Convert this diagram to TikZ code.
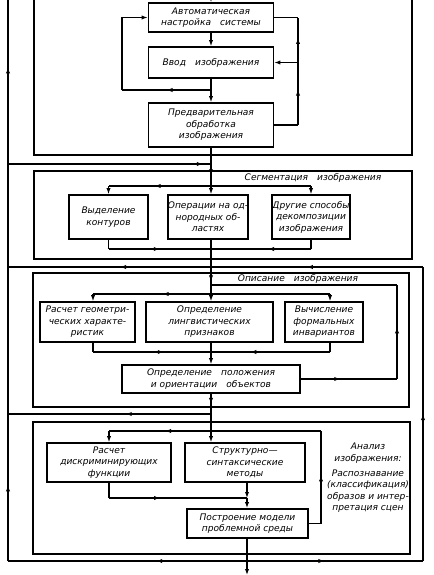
\documentclass[tikz,border=0pt]{standalone}
\usepackage{fontspec}
\setmainfont{DejaVu Sans}
\newfontfamily\rus{DejaVu Sans}
\usetikzlibrary{arrows.meta,decorations.markings}
\tikzset{
  txt/.style={font=\rus\itshape\fontsize{6.8}{8.6}\selectfont, align=center, inner sep=0pt},
  box/.style={txt, draw, line width=1.3pt},
  frm/.style={draw, line width=0.9pt},
  conn/.style={line width=0.8pt},
  arr/.style={-{Latex[length=4.5pt,width=3.2pt]}},
  ma/.style={postaction={decorate, decoration={markings, mark=at position #1 with {\arrow{Latex[length=4.5pt,width=3.2pt]}}}}},
}
\begin{document}
\begin{tikzpicture}[x=0.75pt, y=-0.75pt]
\useasboundingbox (0,0) rectangle (433,575);
% frames
\draw[frm] (34,0) -- (34,155) -- (412,155) -- (412,0);
\draw[frm] (34,171) rectangle (412,259);
\draw[frm] (33,273) rectangle (409,407);
\draw[frm] (33,422) rectangle (410,554);
% boxes
\node[box, minimum width=93.75pt, minimum height=21.75pt] (A) at (211,17.5) {Автоматическая\\настройка\quad системы};
\node[box, minimum width=93.75pt, minimum height=23.25pt] (B) at (211,62.5) {Ввод\quad изображения};
\node[box, minimum width=93.75pt, minimum height=33pt] (C) at (211,125) {Предварительная\\обработка\\изображения};
\node[box, minimum width=59.25pt, minimum height=33pt] (D) at (108.5,217) {Выделение\\контуров};
\node[box, minimum width=58.5pt, minimum height=33pt] (E) at (208,217) {Операции на од-\\нородных об-\\ластях};
\node[box, minimum width=58.5pt, minimum height=33pt] (F) at (311,217) {Другие способы\\декомпозиции\\изображения};
\node[box, minimum width=71.25pt, minimum height=30pt] (G1) at (87.5,322) {Расчет геометри-\\ческих характе-\\ристик};
\node[box, minimum width=95.25pt, minimum height=30pt] (G2) at (209.5,322) {Определение\\лингвистических\\признаков};
\node[box, minimum width=58.5pt, minimum height=30pt] (G3) at (324,322) {Вычисление\\формальных\\инвариантов};
\node[box, minimum width=133.5pt, minimum height=21pt] (H) at (211,379) {Определение\quad положения\\и ориентации\quad объектов};
\node[box, minimum width=93pt, minimum height=29.25pt] (I) at (109,462.5) {Расчет\\дискриминирующих\\функции};
\node[box, minimum width=90pt, minimum height=29.25pt] (J) at (245,462.5) {Структурно—\\синтаксические\\методы};
\node[box, minimum width=90.75pt, minimum height=21.75pt] (K) at (247.5,523.5) {Построение модели\\проблемной среды};
% labels
\node[txt] (tseg) at (313,178) {Сегментация\quad изображения};
\node[txt] (topis) at (298,279) {Описание\quad изображения};
\node[txt] (tan) at (368,453) {Анализ\\изображения:};
\node[txt] (traz) at (368,491) {Распознавание\\(классификация)\\образов и интер-\\претация сцен};
% coordinates
\coordinate (top) at (211,0);
\coordinate (j1) at (211,90);
\coordinate (l1) at (122,90);
\coordinate (r1) at (298,125);
\coordinate (r2) at (298,17.5);
\coordinate (rb) at (298,62.5);
\coordinate (s1) at (211,186);
\coordinate (sD) at (108.5,186);
\coordinate (sF) at (311,186);
\coordinate (s2) at (211,249);
\coordinate (cD) at (108.5,249);
\coordinate (cF) at (311,249);
\coordinate (d0) at (211,285);
\coordinate (d1) at (211,294);
\coordinate (dG1) at (93,294);
\coordinate (dG3) at (330,294);
\coordinate (d2) at (211,352);
\coordinate (cG1) at (93,352);
\coordinate (cG3) at (330,352);
\coordinate (h1) at (397,379);
\coordinate (h2) at (397,285);
\coordinate (e0) at (211,414);
\coordinate (f0) at (211,431);
\coordinate (fI) at (109,431);
\coordinate (kr1) at (321,523.5);
\coordinate (kr2) at (321,431);
\coordinate (i1) at (109,498);
\coordinate (k0) at (247,498);
\coordinate (out) at (247,575);
\coordinate (b0) at (247,561);
\coordinate (bl) at (8,561);
\coordinate (br) at (423,561);
\coordinate (tr) at (423,267);
\coordinate (tl) at (8,267);
\coordinate (L0) at (8,0);
\coordinate (L164) at (8,164);
\coordinate (c164) at (211,164);
\coordinate (L414) at (8,414);
% panel 1
\draw[conn, arr] (top) -- (A.north);
\draw[conn, arr] (A) -- (B);
\draw[conn, arr] (B) -- (C);
\draw[conn, ma=0.5] (j1) -- (l1);
\draw[conn, arr] (l1) |- (A.west);
\draw[conn] (C.east) -- (r1);
\draw[conn, ma=0.33, ma=0.81] (r1) -- (r2);
\draw[conn] (r2) -- (A.east);
\draw[conn, arr] (rb) -- (B.east);
% panel 2
\draw[conn, ma=0.72] (C.south) -- (s1);
\draw[conn, ma=0.96] (L164) -- (c164);
\draw[conn, arr] (s1) -- (E.north -| s1);
\draw[conn, ma=0.55] (s1) -- (sD);
\draw[conn, arr] (sD) -- (D.north);
\draw[conn] (s1) -- (sF);
\draw[conn, arr] (sF) -- (F.north);
\draw[conn] (D.south) -- (cD);
\draw[conn, ma=0.5] (cD) -- (s2);
\draw[conn] (F.south) -- (cF);
\draw[conn, ma=0.43] (cF) -- (s2);
\draw[conn] (E.south -| s2) -- (s2);
% panel 3
\draw[conn, ma=0.9] (s2) -- (d0);
\draw[conn] (d0) -- (d1);
\draw[conn, ma=0.41] (d1) -- (dG1);
\draw[conn, arr] (dG1) -- (G1.north -| dG1);
\draw[conn, arr] (d1) -- (G2.north -| d1);
\draw[conn] (d1) -- (dG3);
\draw[conn, arr] (dG3) -- (G3.north -| dG3);
\draw[conn] (G1.south -| cG1) -- (cG1);
\draw[conn, ma=0.6] (cG1) -- (d2);
\draw[conn] (G3.south -| cG3) -- (cG3);
\draw[conn, ma=0.67] (cG3) -- (d2);
\draw[conn] (G2.south -| d2) -- (d2);
\draw[conn, arr] (d2) -- (H.north);
\draw[conn, ma=0.41] (H.east) -- (h1);
\draw[conn, ma=0.55] (h1) -- (h2);
\draw[conn] (h2) -- (d0);
\draw[conn, ma=0.5] (H.south) -- (e0);
\draw[conn] (e0) -- (f0);
\draw[conn, ma=0.42] (e0) -- (L414);
% panel 4
\draw[conn, ma=0.45] (f0) -- (fI);
\draw[conn, arr] (fI) -- (I.north);
\draw[conn, arr] (f0) -- (J.north -| f0);
\draw[conn] (K.east) -- (kr1);
\draw[conn, ma=0.52] (kr1) -- (kr2);
\draw[conn] (kr2) -- (f0);
\draw[conn] (I.south) -- (i1);
\draw[conn, ma=0.37] (i1) -- (k0);
\draw[conn, arr, line width=1.1pt] (J.south -| k0) -- (k0);
\draw[conn, arr, line width=1.1pt] (k0) -- (K.north -| k0);
\draw[conn, arr] (K.south -| out) -- (out);
% outer loop
\draw[conn, ma=0.38] (b0) -- (bl);
\draw[conn, ma=0.135, ma=0.88] (bl) -- (L0);
\draw[conn, ma=0.44] (b0) -- (br);
\draw[conn, ma=0.5] (br) -- (tr);
\draw[conn, ma=0.28, ma=0.73] (tr) -- (tl);
\end{tikzpicture}
\end{document}
